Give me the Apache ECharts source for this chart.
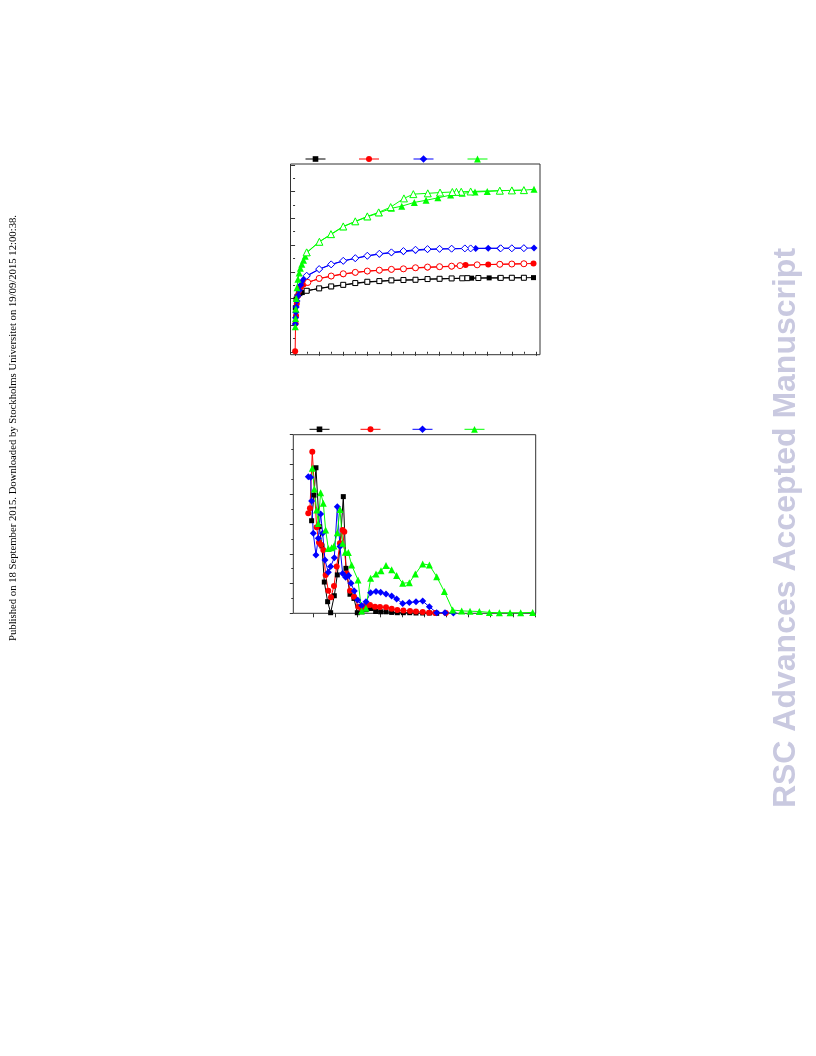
<!DOCTYPE html>
<html><head><meta charset="utf-8">
<script src="https://cdn.jsdelivr.net/npm/echarts@6/dist/echarts.min.js"></script>
<style>html,body{margin:0;padding:0;background:#fff}#c{width:816px;height:1056px}</style>
</head><body><div id="c"></div>
<script>
// ---------- Top chart: isotherms (x = P/P0, y = uptake) ----------
const isoXTicks = [0,0.1,0.2,0.3,0.4,0.5,0.6,0.7,0.8,0.9,1.0];
const isoXMinor = [0.05,0.15,0.25,0.35,0.45,0.55,0.65,0.75,0.85,0.95];
const isoYTicks = [0,100,200,300,400,500,600,700];
const isoYMinor = [50,150,250,350,450,550,650];

const blackAdsP = [0.001,0.004,0.008,0.013,0.02,0.03,0.05,0.10,0.15,0.20,0.25,0.30,0.35,0.40,0.45,0.50,0.55,0.60,0.65,0.733,0.806,0.85,0.90,0.95,0.99];
const blackAdsV = [165,197,207,213,218,222,229,237,244,250,256,261,264,267,268.5,269.5,272,273,274.5,276,277,277,277.5,277.5,278];
const blackDesP = [0.95,0.90,0.854,0.761,0.715,0.694,0.65,0.60,0.55,0.50,0.45,0.40,0.35,0.30,0.25,0.20,0.15,0.10,0.048];
const blackDesV = [277.5,277.5,277,276.5,276,275.5,275,273.7,272.6,270,269,267.7,265,262.5,257.6,251,245,237.7,228.7];

const redAdsP = [0.0003,0.002,0.004,0.007,0.011,0.016,0.024,0.035,0.05,0.10,0.15,0.20,0.25,0.30,0.35,0.40,0.45,0.50,0.55,0.60,0.65,0.708,0.802,0.85,0.90,0.95,0.99];
const redAdsV = [2,106,135,180,210,228,242,252,259,274,283,291,297,302,305,308,310,314,316,318,320,325,327,328,329,330,331];
const redDesP = [0.95,0.90,0.85,0.756,0.685,0.65,0.60,0.55,0.50,0.45,0.40,0.35,0.30,0.25,0.20,0.15,0.10,0.053];
const redDesV = [330,329,328,326,323,321,319,317.6,315,311,309,306,302.6,297.7,292.5,284,275,260];

const blueAdsP = [0.001,0.002,0.003,0.005,0.008,0.012,0.017,0.023,0.03,0.04,0.05,0.10,0.15,0.20,0.25,0.30,0.35,0.40,0.45,0.50,0.55,0.60,0.65,0.75,0.802,0.85,0.90,0.95,0.992];
const blueAdsV = [104,128,148,168,190,210,230,250,265,276,284,309,327,340,350,359,366,371,375,380,383,385,386,387.5,388,388,388.5,388.5,389];
const blueDesP = [0.95,0.90,0.854,0.729,0.705,0.65,0.60,0.55,0.50,0.45,0.40,0.35,0.30,0.25,0.20,0.15,0.10,0.048];
const blueDesV = [388.5,388,388,387.5,387.5,386.5,386,385,382.5,377.6,372.7,367.5,360,351,341,327.7,310,285];

const greenAdsP = [0.001,0.002,0.003,0.005,0.008,0.012,0.017,0.022,0.028,0.035,0.042,0.05,0.10,0.15,0.20,0.25,0.30,0.35,0.40,0.443,0.495,0.544,0.593,0.646,0.694,0.747,0.798,0.851,0.902,0.951,0.992];
const greenAdsV = [94,125,160,200,240,272,295,313,328,343,358,372,412,440,469,488,506,521,538,546,560,568,577,587.5,594,599,601,604,605,606,609];
const greenDesP = [0.95,0.90,0.85,0.729,0.69,0.67,0.653,0.602,0.551,0.491,0.452,0.397,0.347,0.30,0.25,0.20,0.149,0.101,0.048];
const greenDesV = [606,605,604,601,600,599.5,599,597,594,591,575,542.5,522.6,507.6,489,470,441,412.5,372.7];

// ---------- Bottom chart: pore size distributions ----------
const psdXTicks = [1,2,3,4,5,6,7,8,9,10,11];
const psdYTicks = [0,1,2,3,4,5,6];
const psdYMinor = [0.5,1.5,2.5,3.5,4.5,5.5];

const blackPsdX = [0.926,1.032,1.122,1.272,1.392,1.498,1.648,1.784,1.949,2.084,2.220,2.355,2.475,2.656,2.836,2.986,3.181,3.377,3.588,3.814,4.039,4.280,4.535,4.791,5.062,5.347,5.633,5.934,6.235,6.565];
const blackPsdY = [3.11,3.97,4.89,2.91,2.26,1.05,0.39,0.02,0.59,1.29,2.35,3.92,1.51,0.64,0.50,0.02,0.05,0.12,0.16,0.06,0.05,0.05,0.03,0.02,0.02,0.02,0.01,0.01,0.01,0.0];

const redPsdX = [0.776,0.851,0.956,1.152,1.257,1.347,1.453,1.558,1.678,1.799,1.934,2.055,2.205,2.325,2.400,2.505,2.656,2.836,3.032,3.181,3.377,3.558,3.783,4.008,4.280,4.535,4.791,5.062,5.362,5.633,5.934,6.220,6.492,6.977];
const redPsdY = [3.36,3.53,5.43,2.89,2.38,2.30,2.13,1.29,0.76,0.54,0.92,1.57,2.35,2.80,2.74,1.34,0.76,0.56,0.22,0.16,0.25,0.28,0.22,0.21,0.20,0.15,0.11,0.09,0.08,0.06,0.045,0.02,0.01,0.01];

const bluePsdX = [0.776,0.881,0.926,1.002,1.122,1.227,1.332,1.423,1.528,1.678,1.784,1.949,2.084,2.205,2.325,2.461,2.596,2.701,2.851,3.002,3.181,3.377,3.588,3.829,4.039,4.280,4.535,4.760,5.032,5.332,5.633,5.934,6.235,6.565,6.941,7.317];
const bluePsdY = [4.59,4.57,3.77,2.69,1.96,2.52,3.34,2.69,1.79,1.38,1.57,1.87,3.58,2.24,1.34,1.21,1.27,1.01,0.75,0.45,0.26,0.39,0.69,0.73,0.71,0.65,0.58,0.48,0.33,0.36,0.39,0.41,0.22,0.02,0.02,0.01];

const greenPsdX = [0.956,1.047,1.152,1.227,1.332,1.452,1.558,1.678,1.829,1.934,2.084,2.205,2.325,2.445,2.580,2.731,3.017,3.181,3.377,3.588,3.829,4.054,4.280,4.535,4.760,5.032,5.332,5.603,5.934,6.235,6.565,6.911,7.287,7.693,8.069,8.490,8.941,9.392,9.873,10.354,10.895];
const greenPsdY = [4.87,4.18,3.47,3.02,4.05,3.70,2.80,2.18,2.20,2.26,2.71,3.49,2.35,2.05,2.04,1.62,1.12,0.08,0.17,1.18,1.32,1.43,1.61,1.46,1.27,1.01,1.03,1.32,1.66,1.62,1.23,0.73,0.11,0.08,0.07,0.06,0.03,0.02,0.02,0.02,0.03];

const sampleColors = ['#000000','#ff0000','#0000ff','#00ff00'];
const sampleSymbols = ['rect','circle','diamond','triangle'];
const sampleSizes = [5,6,7,7];
const legendIconH = [7,7.5,9.5,8.5];

function zip(xs, ys){ return xs.map((x,i)=>[x, ys[i]]); }

const chart = echarts.init(document.getElementById('c'), null, {renderer:'canvas'});
const axisCol = '#333';

function valAxis(grid, min, max, ticks, len, extra){
  return Object.assign({
    type:'value', gridIndex:grid, min:min, max:max, scale:false,
    axisLine:{show:false},
    axisTick:{show:true, inside:false, length:len, customValues:ticks, lineStyle:{color:axisCol, width:1}},
    axisLabel:{show:false}, splitLine:{show:false}
  }, extra||{});
}

const isoAds = [zip(blackAdsP,blackAdsV), zip(redAdsP,redAdsV), zip(blueAdsP,blueAdsV), zip(greenAdsP,greenAdsV)];
const isoDes = [zip(blackDesP,blackDesV), zip(redDesP,redDesV), zip(blueDesP,blueDesV), zip(greenDesP,greenDesV)];
const psd = [zip(blackPsdX,blackPsdY), zip(redPsdX,redPsdY), zip(bluePsdX,bluePsdY), zip(greenPsdX,greenPsdY)];

const series = [];
const adsNames = ['iso-1','iso-2','iso-3','iso-4'];
const psdNames = ['psd-1','psd-2','psd-3','psd-4'];
for (let i=0;i<4;i++){
  series.push({type:'line', name:adsNames[i], xAxisIndex:0, yAxisIndex:0, data:isoAds[i],
    symbol:sampleSymbols[i], symbolSize:sampleSizes[i], showAllSymbol:true,
    lineStyle:{color:sampleColors[i], width:1}, itemStyle:{color:sampleColors[i]}, z:2});
}
for (let i=0;i<4;i++){
  series.push({type:'line', name:adsNames[i]+'-des', xAxisIndex:0, yAxisIndex:0, data:isoDes[i],
    symbol:sampleSymbols[i], symbolSize:sampleSizes[i], showAllSymbol:true,
    lineStyle:{color:sampleColors[i], width:1}, itemStyle:{color:'#ffffff', borderColor:sampleColors[i], borderWidth:1}, z:3});
}
for (let i=0;i<4;i++){
  series.push({type:'line', name:psdNames[i], xAxisIndex:2, yAxisIndex:2, data:psd[i],
    symbol:sampleSymbols[i], symbolSize:sampleSizes[i], showAllSymbol:true,
    lineStyle:{color:sampleColors[i], width:1}, itemStyle:{color:sampleColors[i]}, z:2});
}

const topLegendX = [305,358.5,413,467];
const botLegendX = [309,360,412,464];
const legends = [];
for (let i=0;i<4;i++){
  const h = legendIconH[i];
  legends.push({data:[adsNames[i]], left:topLegendX[i], top:159 - h/2, itemWidth:20, itemHeight:h, padding:0, itemGap:0,
    selectedMode:false, formatter:()=>'', textStyle:{fontSize:8}, lineStyle:{width:1}});
  legends.push({data:[psdNames[i]], left:botLegendX[i], top:429.3 - h/2, itemWidth:20, itemHeight:h, padding:0, itemGap:0,
    selectedMode:false, formatter:()=>'', textStyle:{fontSize:8}, lineStyle:{width:1}});
}

const option = {
  animation:false,
  backgroundColor:'#ffffff',
  grid:[
    {left:290.5, top:164, width:249.5, height:190.7, show:true, borderColor:axisCol, borderWidth:1, backgroundColor:'transparent'},
    {left:293.3, top:434.7, width:242.4, height:178.6, show:true, borderColor:axisCol, borderWidth:1, backgroundColor:'transparent'}
  ],
  xAxis:[
    valAxis(0, -0.019, 1.017, isoXTicks, 4, {position:'bottom'}),
    valAxis(0, -0.019, 1.017, isoXMinor, 2, {position:'bottom'}),
    valAxis(1, 0.1, 11.03, psdXTicks, 4, {position:'bottom'})
  ],
  yAxis:[
    valAxis(0, -11, 704, isoYTicks, 4, {position:'left'}),
    valAxis(0, -11, 704, isoYMinor, 2, {position:'left'}),
    valAxis(1, 0, 6, psdYTicks, 3.5, {position:'left'}),
    valAxis(1, 0, 6, psdYMinor, 2, {position:'left'})
  ],
  legend:legends,
  series:series,
  graphic:[
    {type:'text', x:13, y:428, rotation:Math.PI/2, silent:true,
      style:{text:'Published on 18 September 2015. Downloaded by Stockholms Universitet on 19/09/2015 12:00:38.',
        fontFamily:'Liberation Serif', fontSize:10.7, fill:'#000', align:'center', verticalAlign:'middle'}},
    {type:'text', x:786, y:528, rotation:Math.PI/2, silent:true,
      style:{text:'RSC Advances Accepted Manuscript', fontFamily:'Liberation Sans', fontWeight:'bold',
        fontSize:32, fill:'#c9c9e0', align:'center', verticalAlign:'middle'}}
  ]
};
chart.setOption(option);
</script></body></html>
